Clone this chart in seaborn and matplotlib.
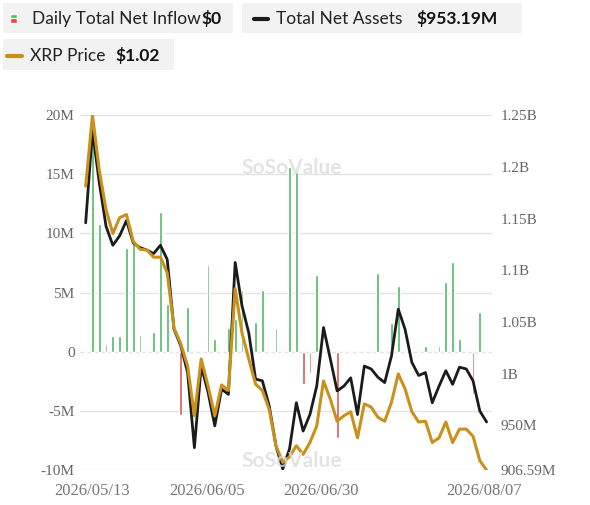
import matplotlib
matplotlib.use("Agg")
import matplotlib.pyplot as plt
import seaborn as sns
import pandas as pd
import numpy as np

inflow_m = [0, 18.3, 10.8, 0.65, 1.35, 1.35, 8.8, 9.2, 1.45, 0, 1.7, 11.8, 4.05, 0, -5.3, 3.75, 0, 0, 7.35, 1.1,
            0, 2.0, 2.75, 5.25, 0, 2.5, 5.25, 0, 2.0, 0, 15.6, 15.2, -2.75, -1.8, 6.5, 0, 0, -7.25, 0, 0.05,
            0, 0, 0, 6.7, 0, 2.4, 5.6, 0, 0, 0, 0.5, 0, 0.5, 5.9, 7.6, 1.05, 0, -3.6, 3.4, 0]
net_assets_m = [1145.8, 1235.1, 1184.8, 1142.4, 1124.1, 1133.3, 1148.1, 1126.4, 1121.8, 1119.5,
                1116.1, 1124.1, 1110.4, 1042.8, 1026.8, 1001.0, 928.3, 1007.3, 982.2, 949.5,
                985.0, 979.9, 1107.5, 1065.7, 1039.4, 994.7, 993.0, 969.0, 930.1, 907.7,
                927.2, 971.8, 944.4, 960.4, 987.9, 1044.5, 1014.2, 983.3, 987.9, 995.9,
                960.4, 1007.3, 1004.5, 996.5, 991.3, 1017.1, 1062.3, 1042.8, 1010.8, 998.2,
                1001.0, 971.8, 987.9, 1002.8, 989.6, 1006.2, 1004.5, 993.0, 963.8, 953.19]
xrp_price = [1.38, 1.47, 1.40, 1.35, 1.32, 1.34, 1.344, 1.31, 1.30, 1.299,
             1.29, 1.29, 1.27, 1.20, 1.18, 1.152, 1.089, 1.161, 1.127, 1.089,
             1.128, 1.121, 1.25, 1.194, 1.161, 1.129, 1.121, 1.097, 1.051, 1.030,
             1.037, 1.051, 1.040, 1.055, 1.076, 1.133, 1.110, 1.082, 1.089, 1.094,
             1.061, 1.104, 1.100, 1.087, 1.082, 1.106, 1.142, 1.123, 1.094, 1.081,
             1.082, 1.055, 1.061, 1.081, 1.055, 1.072, 1.072, 1.063, 1.032, 1.020]
date_labels = ["2026/05/13", "2026/06/05", "2026/06/30", "2026/08/07"]
date_pos = [1.0, 17.9, 34.6, 58.6]
left_ticks = [-10, -5, 0, 5, 10, 15, 20]
left_labels = ["-10M", "-5M", "0", "5M", "10M", "15M", "20M"]
right_ticks = [906.59, 950, 1000, 1050, 1100, 1150, 1200, 1250]
right_labels = ["906.59M", "950M", "1B", "1.05B", "1.1B", "1.15B", "1.2B", "1.25B"]

GREEN, RED, GOLD, BLACK = "#3cc95c", "#f0413c", "#c9901c", "#1b1b1b"
sns.set_theme(style="white")
plt.rcParams['font.family'] = ['Liberation Serif', 'DejaVu Sans']

n = len(inflow_m)
df = pd.DataFrame({"i": np.arange(n), "inflow": inflow_m, "na": net_assets_m, "px": xrp_price})
df["sign"] = np.where(df["inflow"] >= 0, "pos", "neg")

fig = plt.figure(figsize=(5.9, 5.05), dpi=100)
ax = fig.add_axes([0.136, 0.069, 0.698, 0.703])
for t in left_ticks:
    ax.axhline(t, color="#e4e4e4", lw=1, zorder=0)
sns.barplot(data=df, x="i", y="inflow", hue="sign", palette={"pos": GREEN, "neg": RED},
            native_scale=True, dodge=False, width=0.42, legend=False, ax=ax, zorder=2)
ax.set_xlim(-0.8, n - 0.2)
ax.set_ylim(-10, 20)
ax.set_yticks(left_ticks)
ax.set_yticklabels(left_labels, color="#666666", fontsize=11)
ax.set_xticks(date_pos)
ax.set_xticklabels(date_labels, color="#777777", fontsize=12)
ax.tick_params(axis="y", length=0, pad=4)
ax.tick_params(axis="x", length=0, pad=9)
ax.set_xlabel(""); ax.set_ylabel("")
for s in ax.spines.values():
    s.set_visible(False)

ax2 = ax.twinx()
sns.lineplot(data=df, x="i", y="na", color=BLACK, lw=2, ax=ax2, zorder=4)
ax2.set_ylim(906.59, 1250)
ax2.set_yticks(right_ticks)
ax2.set_yticklabels(right_labels, color="#666666", fontsize=11)
ax2.tick_params(length=0, pad=6)
ax2.set_ylabel("")
for s in ax2.spines.values():
    s.set_visible(False)

ax3 = ax.twinx()
sns.lineplot(data=df, x="i", y="px", color=GOLD, lw=2.2, ax=ax3, zorder=5)
ax3.set_ylim(1.02, 1.47)
ax3.axis("off")
ax.set_xlim(-0.8, n - 0.2)

# watermarks
for (wx, wy) in [(0.41, 0.655), (0.41, 0.075)]:
    fig.text(wx, wy, "SoSoValue", fontsize=15, color="#dddddd", fontweight="bold",
             family="Lato", alpha=0.8)

# legend
lf = "Lato"
fig.patches.append(plt.Rectangle((0.005, 0.935), 0.39, 0.06, transform=fig.transFigure,
                                 facecolor="#f2f2f2", edgecolor="none"))
fig.patches.append(plt.Rectangle((0.017, 0.955), 0.012, 0.018, transform=fig.transFigure, facecolor=GREEN))
fig.patches.append(plt.Rectangle((0.017, 0.955), 0.012, 0.009, transform=fig.transFigure, facecolor=RED))
fig.text(0.055, 0.963, "Daily Total Net Inflow", fontsize=12.5, family=lf, color="#222", va="center")
fig.text(0.342, 0.963, "$0", fontsize=12.5, family=lf, color="#111", va="center", fontweight="bold")
fig.patches.append(plt.Rectangle((0.41, 0.935), 0.475, 0.06, transform=fig.transFigure,
                                 facecolor="#f2f2f2", edgecolor="none"))
fig.lines.append(plt.Line2D([0.43, 0.455], [0.963, 0.963], transform=fig.transFigure, color=BLACK, lw=3))
fig.text(0.468, 0.963, "Total Net Assets", fontsize=12.5, family=lf, color="#222", va="center")
fig.text(0.705, 0.963, "$953.19M", fontsize=12.5, family=lf, color="#111", va="center", fontweight="bold")
fig.patches.append(plt.Rectangle((0.005, 0.862), 0.29, 0.06, transform=fig.transFigure,
                                 facecolor="#f2f2f2", edgecolor="none"))
fig.lines.append(plt.Line2D([0.012, 0.037], [0.89, 0.89], transform=fig.transFigure, color=GOLD, lw=3))
fig.text(0.05, 0.89, "XRP Price", fontsize=12.5, family=lf, color="#222", va="center")
fig.text(0.195, 0.89, "$1.02", fontsize=12.5, family=lf, color="#111", va="center", fontweight="bold")

fig.savefig("out.png", dpi=100)
